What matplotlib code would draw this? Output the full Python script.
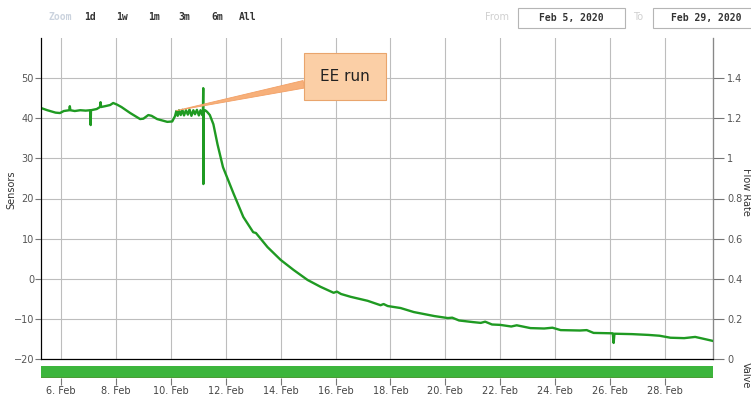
import matplotlib
matplotlib.use('Agg')
import matplotlib.pyplot as plt
import numpy as np

# sensor reading, x in days of February 2020
sensor_day = [5.25, 5.5, 5.8, 5.96, 6.1, 6.3, 6.32, 6.34, 6.5, 6.7, 6.9, 7.07, 7.08, 7.09,
              7.3, 7.42, 7.44, 7.46, 7.6, 7.79, 7.9, 8.04, 8.2, 8.52, 8.88, 9.0, 9.18, 9.3,
              9.5, 9.87, 10.05, 10.15,
              10.2, 10.25, 10.3, 10.36, 10.42, 10.48, 10.55, 10.62, 10.68, 10.75, 10.82,
              10.88, 10.95, 11.02, 11.08, 11.14, 11.17, 11.18, 11.185, 11.19, 11.25, 11.32,
              11.42, 11.55, 11.7, 11.9, 12.28, 12.64, 13.0, 13.1, 13.52, 14.0, 14.47, 14.98,
              15.45, 15.93, 16.05, 16.2, 16.55, 17.17, 17.64, 17.75, 17.9, 18.37, 18.85, 19.3,
              19.6, 20.09, 20.25, 20.5, 21.0, 21.29, 21.45, 21.7, 22.0, 22.4, 22.6, 23.1,
              23.6, 23.9, 24.2, 24.9, 25.15, 25.4, 26.1, 26.13, 26.16, 26.8, 27.4, 27.8,
              28.2, 28.7, 29.1, 29.3, 29.75]
sensor_val = [42.6, 42.0, 41.4, 41.3, 41.8, 42.0, 43.0, 42.0, 41.8, 42.0, 41.9, 42.0, 38.3, 42.0,
              42.3, 42.8, 44.0, 42.8, 43.0, 43.3, 43.8, 43.4, 42.8, 41.3, 39.8, 39.9, 40.8, 40.6,
              39.8, 39.1, 39.2, 40.5,
              41.8, 40.6, 42.0, 40.8, 42.1, 40.7, 42.0, 40.9, 42.2, 40.6, 42.0,
              41.0, 42.1, 40.7, 42.0, 40.8, 42.0, 47.5, 23.6, 41.5, 42.0, 41.6,
              40.8, 38.5, 33.5, 27.8, 21.3, 15.4, 11.6, 11.4, 7.9, 4.7, 2.2, -0.3,
              -2.0, -3.5, -3.2, -3.8, -4.5, -5.5, -6.6, -6.3, -6.8, -7.3, -8.3, -8.9,
              -9.3, -9.8, -9.7, -10.4, -10.8, -11.0, -10.7, -11.4, -11.5, -11.9, -11.6, -12.3,
              -12.4, -12.2, -12.8, -12.9, -12.8, -13.5, -13.6, -16.0, -13.7, -13.8, -14.0, -14.2,
              -14.7, -14.8, -14.5, -14.8, -15.5]

# valve state (open the whole period)
valve_day = [5.27, 29.75]
valve_val = [1, 1]

date_ticks = [6, 8, 10, 12, 14, 16, 18, 20, 22, 24, 26, 28]
date_labels = [f'{d}. Feb' for d in date_ticks]
sensor_ticks = [-20, -10, 0, 10, 20, 30, 40, 50]
flow_ticks = [0, 0.2, 0.4, 0.6, 0.8, 1, 1.2, 1.4]
flow_labels = ['0', '0.2', '0.4', '0.6', '0.8', '1', '1.2', '1.4']
range_buttons = ['Zoom', '1d', '1w', '1m', '3m', '6m', 'All']

W, H = 751, 396
fig = plt.figure(figsize=(W / 100, H / 100), dpi=100)

x0, x1 = 41 / W, 713 / W
ax = fig.add_axes([x0, 1 - 359 / H, x1 - x0, (359 - 38) / H])
ax.plot(sensor_day, sensor_val, color='#1f9a22', lw=1.7, zorder=3)
ax.set_xlim(5.27, 29.75)
ax.set_ylim(-20, 60)
ax.set_xticks(date_ticks)
ax.set_yticks(sensor_ticks)
ax.grid(True, color='#bdbdbd', lw=0.8)
ax.tick_params(axis='x', length=0, labelbottom=False)
ax.tick_params(axis='y', length=4, width=0.8, color='#777777', labelsize=7,
               labelcolor='#555555', pad=1)
for s in ['left', 'right', 'bottom']:
    ax.spines[s].set_color('#888888')
    ax.spines[s].set_linewidth(0.9)
ax.spines['top'].set_visible(False)
fig.text(11 / W, 1 - 190 / H, 'Sensors', fontsize=7, color='#333333', rotation=90,
         ha='center', va='center')

ax2 = ax.twinx()
ax2.set_ylim(0, 1.6)
ax2.set_yticks(flow_ticks)
ax2.set_yticklabels(flow_labels)
ax2.tick_params(axis='y', length=8, width=0.8, color='#777777', labelsize=7,
                labelcolor='#555555', pad=2)
ax2.spines['top'].set_visible(False)
ax2.spines['right'].set_color('#888888')
fig.text(746 / W, 1 - 192 / H, 'Flow Rate', fontsize=7, color='#333333', rotation=-90,
         ha='center', va='center')

# annotation callout
ax.annotate('EE run', xy=(10.2, 41.9), xytext=(16.35, 50.3),
            fontsize=11, color='#222222', ha='center', va='center', zorder=5,
            bbox=dict(boxstyle='square,pad=1.05', fc='#fbcfa6', ec='#e9a56d', lw=0.8),
            arrowprops=dict(arrowstyle='wedge,tail_width=0.5,shrink_factor=0.5',
                            fc='#f7b07a', ec='#f2a066', lw=0.6, relpos=(0.02, 0.25),
                            shrinkA=0, shrinkB=0))

# valve strip
axv = fig.add_axes([x0, 1 - 378 / H, x1 - x0, 12 / H])
axv.fill_between(valve_day, 0, valve_val, color='#3cb53c', lw=0)
axv.axhline(0.04, color='#8a3a1a', lw=1.0)
axv.set_xlim(5.27, 29.75)
axv.set_ylim(0, 1)
axv.set_yticks([])
axv.set_xticks(date_ticks)
axv.set_xticklabels(date_labels)
axv.tick_params(axis='x', length=5, width=0.8, color='#777777', labelsize=7,
                labelcolor='#444444', pad=1)
for s in axv.spines.values():
    s.set_visible(False)
fig.text(746 / W, 1 - 375 / H, 'Valve', fontsize=7, color='#333333', rotation=-90,
         ha='center', va='center')

# range selector and date inputs
btn_x = [60, 90, 122, 154, 184, 217, 248]
for lbl, bx in zip(range_buttons, btn_x):
    fig.text(bx / W, 1 - 17 / H, lbl, fontsize=7, family='DejaVu Sans Mono',
             weight='bold', color='#cbd3de' if lbl == 'Zoom' else '#333333',
             ha='center', va='center')
fig.text(497 / W, 1 - 17 / H, 'From', fontsize=7, color='#d0d0d0', ha='center', va='center')
fig.text(638 / W, 1 - 17 / H, 'To', fontsize=7, color='#d0d0d0', ha='center', va='center')
for (bx0, bx1), lbl in zip([(518, 625), (653, 760)], ['Feb 5, 2020', 'Feb 29, 2020']):
    fig.patches.append(plt.Rectangle((bx0 / W, 1 - 28 / H), (bx1 - bx0) / W, 20 / H,
                                     transform=fig.transFigure, fc='white', ec='#b5b5b5',
                                     lw=0.8))
    fig.text((bx0 + 53) / W, 1 - 18 / H, lbl, fontsize=7, family='DejaVu Sans Mono',
             weight='bold', color='#333333', ha='center', va='center')

fig.savefig('out.png', dpi=100)
